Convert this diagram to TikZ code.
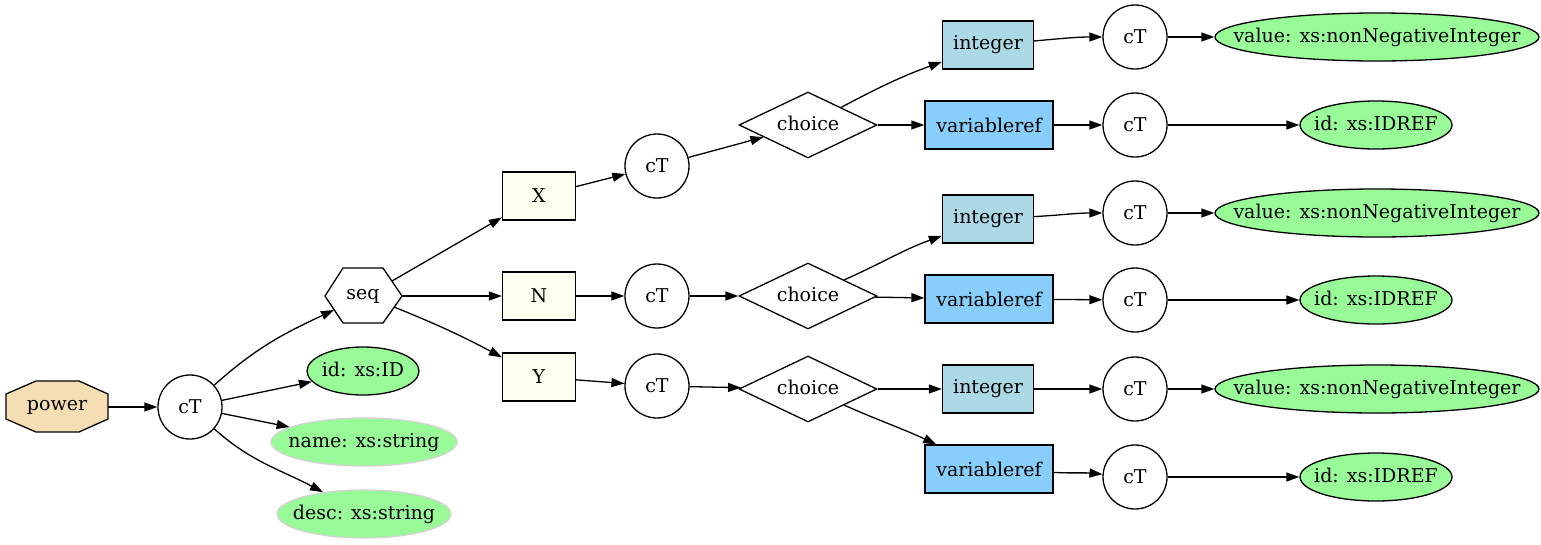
\documentclass[tikz,border=0pt]{standalone}
\usepackage{fontspec}
\setmainfont{DejaVu Serif}
\usetikzlibrary{shapes.geometric,arrows.meta}
\definecolor{wheatc}{HTML}{F5DEB3}
\definecolor{ivoryc}{HTML}{FFFFF0}
\definecolor{lblue}{HTML}{ADD8E6}
\definecolor{lsky}{HTML}{87CEFA}
\definecolor{pgreen}{HTML}{98FB98}
\definecolor{lgrey}{HTML}{D3D3D3}
% text of fixed-size shapes is set without width or height, so the shape keeps its given size
\newcommand{\fixw}[1]{\makebox[0pt][c]{\raisebox{-0.27em}[0pt][0pt]{#1}}}
\tikzset{
  every node/.style={font=\fontsize{19}{22}\selectfont, inner sep=0pt},
  ct/.style={circle, draw, line width=1.3pt, minimum size=64pt, fill=white},
  elem/.style={rectangle, draw, line width=1.3pt, minimum height=48pt, fill=ivoryc},
  intbox/.style={rectangle, draw, line width=1.3pt, minimum width=91pt, minimum height=48pt, fill=lblue},
  varbox/.style={rectangle, draw, line width=1.3pt, minimum width=128pt, minimum height=48pt, fill=lsky},
  choicebox/.style={diamond, draw, line width=1.3pt, minimum width=138pt, minimum height=66pt, fill=white},
  attr/.style={ellipse, draw, line width=1.3pt, fill=pgreen, minimum height=48pt},
  optattr/.style={ellipse, draw=lgrey, line width=1.3pt, fill=pgreen, minimum height=48pt},
  edge/.style={-{Triangle[length=13pt,width=9pt]}, line width=1.3pt},
  polyshape/.style={draw, line width=1.3pt}
}
\begin{document}
\begin{tikzpicture}[x=1pt, y=-1pt]
\useasboundingbox (0,0) rectangle (1541,544);

% root element: stretched octagon with a text node on top
\draw[polyshape, fill=wheatc] (36,381) -- (79,381) -- (108,394) -- (108,419) -- (79,432) -- (36,432) -- (6,419) -- (6,394) -- cycle;
\node[minimum width=102pt, minimum height=51pt] (power) at (57,407) {power};

\node[ct] (c0) at (190,407) {cT};

% sequence: stretched hexagon with a text node and edge ports
\draw[polyshape, fill=white] (325,296) -- (343,268) -- (383,268) -- (402,296) -- (383,323) -- (343,323) -- cycle;
\node[minimum width=77pt, minimum height=55pt] (seq) at (363,296) {seq};
\coordinate (seqsw) at (334,310);
\coordinate (seqne) at (392,281);
\coordinate (seqse) at (394,307);

\node[attr, minimum width=112pt] (aid) at (363,371) {\fixw{id: xs:ID}};
\node[optattr, minimum width=186pt] (aname) at (364,442) {\fixw{name: xs:string}};
\node[optattr, minimum width=174pt] (adesc) at (364,514) {\fixw{desc: xs:string}};

\node[elem, minimum width=73pt] (ex) at (539,196) {X};
\node[elem, minimum width=73pt] (en) at (539,296) {N};
\node[elem, minimum width=73pt] (ey) at (539,377) {Y};

\node[ct] (cx) at (657,166) {cT};
\node[ct] (cn) at (657,296) {cT};
\node[ct] (cy) at (657,386) {cT};

\node[choicebox] (ch1) at (808,125) {\fixw{choice}};
\node[choicebox] (ch2) at (808,296) {\fixw{choice}};
\node[choicebox] (ch3) at (808,389) {\fixw{choice}};

\node[intbox] (i1) at (988,45) {integer};
\node[varbox] (v1) at (989,125) {variableref};
\node[intbox] (i2) at (988,219) {integer};
\node[varbox] (v2) at (989,299) {variableref};
\node[intbox] (i3) at (988,389) {integer};
\node[varbox] (v3) at (989,469) {variableref};

\node[ct] (ci1) at (1135,37) {cT};
\node[ct] (cv1) at (1135,125) {cT};
\node[ct] (ci2) at (1135,213) {cT};
\node[ct] (cv2) at (1135,300) {cT};
\node[ct] (ci3) at (1135,389) {cT};
\node[ct] (cv3) at (1135,477) {cT};

\node[attr, minimum width=324pt] (val1) at (1377,37) {\fixw{value: xs:nonNegativeInteger}};
\node[attr, minimum width=152pt] (ref1) at (1376,125) {\fixw{id: xs:IDREF}};
\node[attr, minimum width=324pt] (val2) at (1377,213) {\fixw{value: xs:nonNegativeInteger}};
\node[attr, minimum width=152pt] (ref2) at (1376,300) {\fixw{id: xs:IDREF}};
\node[attr, minimum width=324pt] (val3) at (1377,389) {\fixw{value: xs:nonNegativeInteger}};
\node[attr, minimum width=152pt] (ref3) at (1376,477) {\fixw{id: xs:IDREF}};

% connectors
\draw[edge] (power) -- (c0);
\draw[edge] (c0) to[out=42, in=205] (seqsw);
\draw[edge] (c0) -- (aid);
\draw[edge] (c0) -- (aname);
\draw[edge] (c0) to[out=-42, in=152] (adesc);

\draw[edge] (seqne) -- (ex);
\draw[edge] (seq) -- (en);
\draw[edge] (seqse) to[out=-22, in=152] (ey);

\draw[edge] (ex) -- (cx);
\draw[edge] (en) -- (cn);
\draw[edge] (ey) -- (cy);

\draw[edge] (cx) -- (ch1);
\draw[edge] (cn) -- (ch2);
\draw[edge] (cy) -- (ch3);

\draw[edge] (ch1) to[out=28, in=200] (i1);
\draw[edge] (ch1) -- (v1);
\draw[edge] (ch2) to[out=24, in=200] (i2);
\draw[edge] (ch2) -- (v2);
\draw[edge] (ch3) -- (i3);
\draw[edge] (ch3) to[out=-24, in=155] (v3);

\draw[edge] (i1) to[out=5, in=180] (ci1);
\draw[edge] (v1) -- (cv1);
\draw[edge] (i2) to[out=3, in=180] (ci2);
\draw[edge] (v2) -- (cv2);
\draw[edge] (i3) -- (ci3);
\draw[edge] (v3) to[out=-3, in=175] (cv3);

\draw[edge] (ci1) -- (val1);
\draw[edge] (cv1) -- (ref1);
\draw[edge] (ci2) -- (val2);
\draw[edge] (cv2) -- (ref2);
\draw[edge] (ci3) -- (val3);
\draw[edge] (cv3) -- (ref3);
\end{tikzpicture}
\end{document}
